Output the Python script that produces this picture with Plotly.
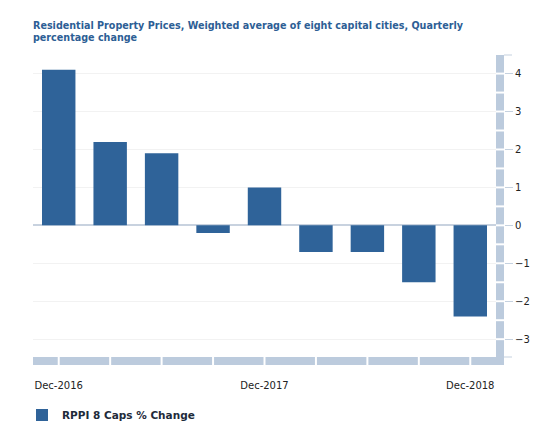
import plotly.graph_objects as go

# quarterly % change, RPPI weighted average of 8 capital cities
quarters = ["Dec-2016", "Mar-2017", "Jun-2017", "Sep-2017", "Dec-2017",
            "Mar-2018", "Jun-2018", "Sep-2018", "Dec-2018"]
pct_change = [4.1, 2.2, 1.9, -0.2, 1.0, -0.7, -0.7, -1.5, -2.4]
shown_ticks = ["Dec-2016", "Dec-2017", "Dec-2018"]
y_ticks = [-3, -2, -1, 0, 1, 2, 3, 4]
y_range = [-3.47, 4.49]

bar_col = "#2f6399"
band_col = "#bccbdd"
font = "DejaVu Sans"

# page has an 8px body margin, so the figure is a bit smaller than the window
W, H = 532, 423
plot_w = 463
dom_r = plot_w / (plot_w + 8)

fig = go.Figure(go.Bar(x=quarters, y=pct_change, name="RPPI 8 Caps % Change",
                       marker=dict(color=bar_col, line=dict(width=0))))

# light band along the bottom with gaps at each quarter
fig.add_shape(type="rect", xref="x domain", yref="paper", x0=0, x1=(plot_w + 8) / plot_w,
              ysizemode="pixel", yanchor=0, y0=-8, y1=0,
              fillcolor=band_col, line=dict(width=0), layer="below")
for q in quarters:
    fig.add_shape(type="line", xref="x", yref="paper", x0=q, x1=q,
                  ysizemode="pixel", yanchor=0, y0=-8, y1=0,
                  line=dict(color="white", width=2))

# band along the right with gaps every half unit
fig.add_shape(type="rect", xref="paper", yref="y domain", x0=dom_r, x1=1,
              y0=0, y1=1, fillcolor=band_col, line=dict(width=0), layer="below")
half_steps = [v / 2 for v in range(-6, 9)]
for v in half_steps:
    fig.add_shape(type="line", xref="paper", yref="y", x0=dom_r, x1=1,
                  y0=v, y1=v, line=dict(color="white", width=2))
# little ticks at both ends of the right band
for yd in [0, 1]:
    fig.add_shape(type="line", xref="paper", yref="y domain",
                  xsizemode="pixel", xanchor=1, x0=0, x1=8, y0=yd, y1=yd,
                  line=dict(color="#c5d1df", width=1))

fig.update_layout(
    width=W, height=H,
    margin=dict(l=25, r=36, t=47, b=74, autoexpand=False),
    plot_bgcolor="white", paper_bgcolor="white",
    bargap=0.35,
    font=dict(family=font, size=10, color="#222222"),
    title=dict(text="<b>Residential Property Prices, Weighted average of eight capital cities, Quarterly<br>percentage change</b>",
               x=0, xref="paper", xanchor="left", y=1 - 21 / H, yref="container", yanchor="top",
               font=dict(family=font, size=9.6, color="#2d5e95")),
    xaxis=dict(domain=[0, dom_r], type="category", tickvals=shown_ticks, ticktext=shown_ticks,
               showgrid=False, showline=False, ticks="", ticklabelstandoff=21, automargin=False,
               tickfont=dict(size=10, color="#222222")),
    yaxis=dict(range=y_range, side="right", anchor="free", position=1, automargin=False,
               tickvals=y_ticks, ticks="outside", ticklen=8, tickcolor="#c5d1df",
               showgrid=True, gridcolor="#f2f2f2", gridwidth=1,
               zeroline=True, zerolinecolor="#c8d2df", zerolinewidth=1.5,
               showline=False, tickfont=dict(size=10, color="#222222")),
    showlegend=True,
    legend=dict(orientation="h", xref="container", yref="container",
                x=14 / W, xanchor="left", y=16 / H, yanchor="middle",
                font=dict(family=font, size=10.5, color="#1e2b3a", weight="bold")),
)

fig.write_html("out.html")
